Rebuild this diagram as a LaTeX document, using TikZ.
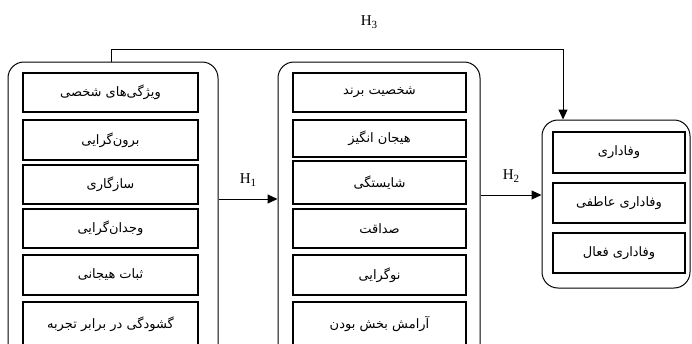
\documentclass[tikz,border=0pt]{standalone}
\usepackage{fontspec}
\setmainfont{Liberation Serif}
\newfontfamily\arabicfont[Script=Arabic]{DejaVu Sans}
\TeXXeTstate=1
\usetikzlibrary{arrows.meta}
\newcommand{\fa}[1]{{\arabicfont\fontsize{13}{15}\selectfont\beginR #1\endR}}
\newcommand{\hsub}[1]{H\raisebox{-2.5pt}{\fontsize{11}{11}\selectfont #1}}
\begin{document}
\begin{tikzpicture}[x=1pt,y=-1pt,
  container/.style={draw,line width=1pt,rounded corners=16pt,inner sep=0pt},
  item/.style={draw,line width=1.3pt,inner sep=0pt,font=\arabicfont},
  conn/.style={line width=1pt},
  arr/.style={conn,-{Triangle[length=10pt,width=9pt]}},
  hlab/.style={font=\fontsize{15}{17}\selectfont}]
\useasboundingbox (0,0) rectangle (692,343);
\clip (0,0) rectangle (692,343);
\fill[white] (0,0) rectangle (692,343);
% containers
\node[container,minimum width=210pt,minimum height=300pt] (L) at (113,212) {};
\node[container,minimum width=202pt,minimum height=300pt] (M) at (379,212) {};
\node[container,minimum width=148pt,minimum height=168pt] (R) at (616,204) {};
% left items
\node[item,minimum width=175pt,minimum height=39pt] (l1) at (110.5,92.5) {\fa{ویژگی‌های شخصی}};
\node[item,minimum width=175pt,minimum height=40pt] (l2) at (110.5,140) {\fa{برون‌گرایی}};
\node[item,minimum width=175pt,minimum height=39pt] (l3) at (110.5,184.5) {\fa{سازگاری}};
\node[item,minimum width=175pt,minimum height=39pt] (l4) at (110.5,228.5) {\fa{وجدان‌گرایی}};
\node[item,minimum width=175pt,minimum height=40pt] (l5) at (110.5,275) {\fa{ثبات هیجانی}};
\node[item,minimum width=175pt,minimum height=44pt] (l6) at (110.5,324) {\raisebox{1pt}{\fa{گشودگی در برابر تجربه}}};
% middle items
\node[item,minimum width=173pt,minimum height=39pt] (m1) at (379.5,92.5) {\fa{شخصیت برند}};
\node[item,minimum width=173pt,minimum height=37pt] (m2) at (379.5,138.5) {\fa{هیجان انگیز}};
\node[item,minimum width=173pt,minimum height=43pt] (m3) at (379.5,182.5) {\fa{شایستگی}};
\node[item,minimum width=173pt,minimum height=39pt] (m4) at (379.5,228.5) {\fa{صداقت}};
\node[item,minimum width=173pt,minimum height=40pt] (m5) at (379.5,275) {\fa{نوگرایی}};
\node[item,minimum width=173pt,minimum height=44pt] (m6) at (379.5,324) {\raisebox{1pt}{\fa{آرامش بخش بودن}}};
% right items
\node[item,minimum width=132pt,minimum height=41pt] (r1) at (619,152.5) {\fa{وفاداری}};
\node[item,minimum width=132pt,minimum height=40pt] (r2) at (619,203) {\fa{وفاداری عاطفی}};
\node[item,minimum width=132pt,minimum height=40pt] (r3) at (619,253) {\fa{وفاداری فعال}};
% connectors
\coordinate (h1y) at (0,199);
\coordinate (h2y) at (0,195);
\coordinate (h3y) at (0,49);
\draw[arr] (L.east |- h1y) -- (M.west |- h1y) node[hlab,midway,above=9pt] {\hsub{1}};
\draw[arr] (M.east |- h2y) -- (R.west |- h2y) node[hlab,midway,above=9pt] {\hsub{2}};
\draw[arr] ([xshift=-2pt]L.north) -- ([xshift=-2pt]L.north |- h3y) -- ([xshift=-53pt]R.north |- h3y) -- ([xshift=-53pt]R.north);
\node[hlab] (h3) at (369,22) {\hsub{3}};
\end{tikzpicture}
\end{document}
